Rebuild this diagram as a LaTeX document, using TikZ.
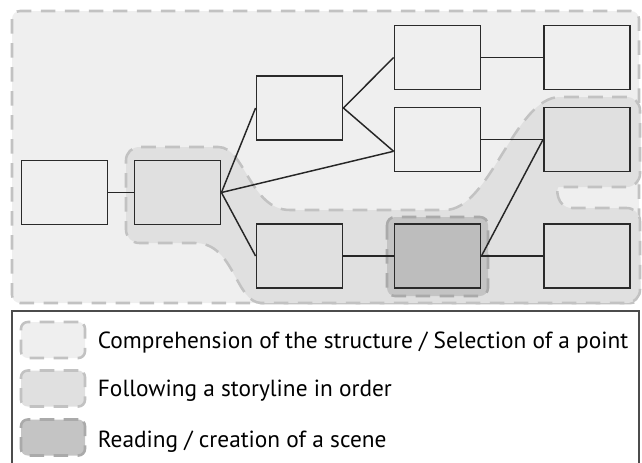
\documentclass[tikz,border=0pt]{standalone}
\usepackage{fontspec}
\setmainfont{PT Sans}
\definecolor{areaLight}{HTML}{EFEFEF}
\definecolor{areaMid}{HTML}{E0E0E0}
\definecolor{areaDark}{HTML}{C4C4C4}
\definecolor{boxDark}{HTML}{BDBDBD}
\definecolor{dashGray}{HTML}{C2C2C2}
\definecolor{dashDark}{HTML}{AAAAAA}
\definecolor{boxLine}{HTML}{2A2A2A}
\begin{document}
\begin{tikzpicture}[x=0.75pt, y=-0.75pt,
			every node/.style = {shape=rectangle, draw=boxLine, line width=1.4pt,
				minimum width=64.5pt, minimum height=48pt, inner sep=0pt},
			zone/.style = {draw=dashGray, line width=1.9pt, dash pattern=on 11pt off 7pt},
			link/.style = {draw=black!85, line width=1.1pt},
			swatch/.style = {zone, rounded corners=5pt, minimum width=48pt, minimum height=27pt},
			legendtext/.style = {draw=none, minimum width=0pt, minimum height=0pt,
				anchor=base west, font=\fontsize{17.5}{20}\selectfont}]
	\useasboundingbox (0,0) rectangle (642,462);
	\clip (0,0) rectangle (642,462);
	% reading areas
	\path[zone, fill=areaLight, rounded corners=6pt] (12,11) rectangle (639,303);
	\path[zone, fill=areaMid] (126,175) [rounded corners=10pt] -- (126,147) -- (205,147)
		[sharp corners] .. controls (245,147) and (250,210) .. (290,210) -- (445,210)
		.. controls (490,210) and (515,97) .. (560,97) [rounded corners=10pt] -- (640,97)
		-- (640,187) -- (572,187) [sharp corners] .. controls (556,187) and (556,208) .. (572,208)
		[rounded corners=10pt] -- (640,208) -- (640,303) -- (275,303)
		[sharp corners] .. controls (235,303) and (235,243) .. (195,243)
		[rounded corners=10pt] -- (126,243) -- cycle;
	\path[zone, draw=dashDark, fill=areaDark, rounded corners=6pt] (387,217) rectangle (488,296);
	% story nodes
	\node (origin) at (64.5,192.5) {};
	\node (choice) at (177.5,192.5) {};
	\node (upper) at (299.5,108) {};
	\node (topL) at (437.5,57.5) {};
	\node (topR) at (587,57.5) {};
	\node (midL) at (437.5,139.5) {};
	\node (midR) at (587,139.5) {};
	\node (lowL) at (299.5,256) {};
	\node[fill=boxDark] (scene) at (437.5,256) {};
	\node (lowR) at (587,256) {};
	\draw[link] (origin) -- (choice);
	\draw[link] (choice.east) -- (upper.west);
	\draw[link] (choice.east) -- (midL.195);
	\draw[link] (choice.east) -- (lowL.west);
	\draw[link] (upper.east) -- (topL.west);
	\draw[link] (upper.east) -- (midL.195);
	\draw[link] (topL) -- (topR);
	\draw[link] (midL) -- (midR);
	\draw[link] (lowL) -- (scene);
	\draw[link] (scene) -- (lowR);
	\draw[link] (scene.east) -- (midR.west);
	% legend
	\draw[draw=black!70, line width=1.2pt] (12,311) rectangle (639,475);
	\node[swatch, fill=areaLight] (keyA) at (53,340) {};
	\node[swatch, fill=areaMid] (keyB) at (53,388.5) {};
	\node[swatch, draw=dashDark, fill=areaDark] (keyC) at (53,437.5) {};
	\node[legendtext] (textA) at (97,348) {Comprehension of the structure / Selection of a point};
	\node[legendtext] (textB) at (97,396) {Following a storyline in order};
	\node[legendtext] (textC) at (97,447) {Reading / creation of a scene};
\end{tikzpicture}
\end{document}
